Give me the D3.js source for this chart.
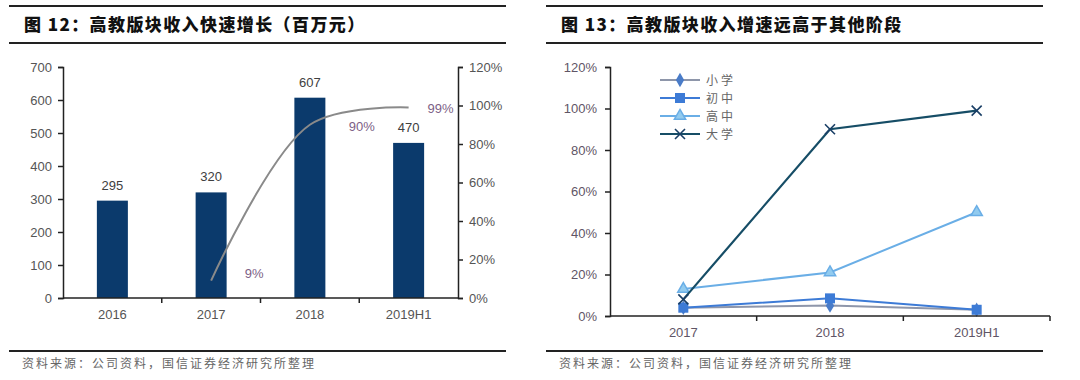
<!DOCTYPE html>
<html><head><meta charset="utf-8">
<script src="https://cdn.jsdelivr.net/npm/d3@7"></script>
<style>body{margin:0;background:#fff;} svg{display:block;}</style>
</head><body>
<svg id="c" width="1080" height="380"></svg>
<script>
// ---- Data ----
const years1 = ["2016","2017","2018","2019H1"];
const revenue = [295, 320, 607, 470];
const growthYears = ["2017","2018","2019H1"];
const growth = [0.09, 0.90, 0.99];
const growthLabels = ["9%","90%","99%"];
const leftTicks = [0,100,200,300,400,500,600,700];
const rightTicks = [0,0.2,0.4,0.6,0.8,1.0,1.2];

const years2 = ["2017","2018","2019H1"];
const seriesNames = ["小学","初中","高中","大学"];
const primary = [0.04, 0.05, 0.03];
const junior = [0.04, 0.085, 0.03];
const senior = [0.13, 0.21, 0.50];
const college = [0.08, 0.90, 0.99];
const pctTicks = [0,0.2,0.4,0.6,0.8,1.0,1.2];

const title1 = "图 12：高教版块收入快速增长（百万元）";
const title2 = "图 13：高教版块收入增速远高于其他阶段";
const source = "资料来源：公司资料，国信证券经济研究所整理";

const svg = d3.select("#c");
const FONT = "Liberation Sans, Arial, sans-serif";
const CJK = "Noto Sans CJK SC, sans-serif";

// ---- Frames ----
function frame(x0, x1, title){
  svg.append("line").attr("x1",x0).attr("x2",x1).attr("y1",6).attr("y2",6).attr("stroke","#222").attr("stroke-width",2);
  svg.append("line").attr("x1",x0).attr("x2",x1).attr("y1",43).attr("y2",43).attr("stroke","#222").attr("stroke-width",2);
  svg.append("line").attr("x1",x0).attr("x2",x1).attr("y1",351).attr("y2",351).attr("stroke","#222").attr("stroke-width",2);
  svg.append("text").attr("x",x0+15).attr("y",31).text(title)
    .attr("font-family",CJK).attr("font-weight",900).attr("font-size",17).attr("letter-spacing",1.4).attr("fill","#111");
  svg.append("text").attr("x",x0+13).attr("y",368).text(source)
    .attr("font-family",CJK).attr("font-size",12).attr("letter-spacing",2).attr("fill","#666");
}
frame(9,506,title1);
frame(546,1043,title2);

// ---- Left chart ----
const L = {x0:63, x1:458, y0:298, y1:67};
const xb = d3.scaleBand().domain(years1).range([L.x0,L.x1]);
const yl = d3.scaleLinear().domain([0,700]).range([L.y0,L.y1]);
const yr = d3.scaleLinear().domain([0,1.2]).range([L.y0,L.y1]);
const g1 = svg.append("g");

g1.selectAll("rect.bar").data(years1).enter().append("rect")
  .attr("x",d=>xb(d)+xb.bandwidth()/2-15.5).attr("width",31)
  .attr("y",(d,i)=>yl(revenue[i])).attr("height",(d,i)=>L.y0-yl(revenue[i]))
  .attr("fill","#0b3a6c");
g1.selectAll("text.val").data(years1).enter().append("text")
  .attr("x",d=>xb(d)+xb.bandwidth()/2).attr("y",(d,i)=>yl(revenue[i])-11)
  .attr("text-anchor","middle").attr("font-family",FONT).attr("font-size",13).attr("fill","#404040")
  .text((d,i)=>revenue[i]);

// growth line
const gl = d3.line().x((d,i)=>xb(growthYears[i])+xb.bandwidth()/2).y(d=>yr(d)).curve(d3.curveCatmullRom.alpha(0.5));
g1.append("path").datum(growth).attr("d",gl).attr("fill","none").attr("stroke","#8a8a8a").attr("stroke-width",2);
const glOff = [[43,-8],[52,1],[32,1]];
g1.selectAll("text.gr").data(growth).enter().append("text")
  .attr("x",(d,i)=>xb(growthYears[i])+xb.bandwidth()/2+glOff[i][0])
  .attr("y",(d,i)=>yr(d)+glOff[i][1]+5)
  .attr("text-anchor","middle").attr("font-family",FONT).attr("font-size",13).attr("fill","#7d5f86")
  .text((d,i)=>growthLabels[i]);

// axes
const axL = d3.axisLeft(yl).tickValues(leftTicks).tickSize(5).tickPadding(6);
const gL = g1.append("g").attr("transform",`translate(${L.x0},0)`).call(axL);
const axR = d3.axisRight(yr).tickValues(rightTicks).tickSize(5).tickPadding(6).tickFormat(d3.format(".0%"));
const gR = g1.append("g").attr("transform",`translate(${L.x1},0)`).call(axR);
const axB = d3.axisBottom(xb).tickSize(0).tickPadding(12);
const gB = g1.append("g").attr("transform",`translate(0,${L.y0})`).call(axB);
g1.selectAll("line.bt").data(years1.slice(1)).enter().append("line")
  .attr("x1",d=>xb(d)).attr("x2",d=>xb(d)).attr("y1",L.y0).attr("y2",L.y0+5).attr("stroke","#222").attr("stroke-width",1.5);
[gL,gR,gB].forEach(g=>{
  g.select(".domain").attr("stroke","#222").attr("stroke-width",1.5);
  g.selectAll(".tick line").attr("stroke","#222").attr("stroke-width",1.5);
  g.selectAll("text").attr("font-family",FONT).attr("font-size",13).attr("fill","#555");
});
gB.select(".domain").attr("d",`M${L.x0},0H${L.x1}`);

// ---- Right chart ----
const R = {x0:610, x1:1050, y0:316, y1:67};
const xb2 = d3.scaleBand().domain(years2).range([R.x0,R.x1]);
const y2 = d3.scaleLinear().domain([0,1.2]).range([R.y0,R.y1]);
const g2 = svg.append("g");
const cx = d=>xb2(d)+xb2.bandwidth()/2;

const series = [
  {name:seriesNames[0], vals:primary, line:"#8e96aa", mark:"#4a7cc8", sym:"diamond"},
  {name:seriesNames[1], vals:junior, line:"#3d7bd6", mark:"#3d7bd6", sym:"square"},
  {name:seriesNames[2], vals:senior, line:"#6aaee6", mark:"#6aaee6", sym:"triangle"},
  {name:seriesNames[3], vals:college, line:"#164d66", mark:"#1a3f66", sym:"x"}
];
const l2 = d3.line().x((d,i)=>cx(years2[i])).y(d=>y2(d));
function marker(g, s, x, y){
  if(s.sym==="diamond"){
    g.append("path").attr("d",d3.symbol(d3.symbolDiamond,60)()).attr("transform",`translate(${x},${y})`).attr("fill",s.mark);
  } else if(s.sym==="square"){
    g.append("rect").attr("x",x-5).attr("y",y-5).attr("width",10).attr("height",10).attr("fill",s.mark);
  } else if(s.sym==="triangle"){
    g.append("path").attr("d",d3.symbol(d3.symbolTriangle,55)()).attr("transform",`translate(${x},${y})`).attr("fill","#92cbef").attr("stroke",s.mark).attr("stroke-width",1.5);
  } else {
    g.append("path").attr("d",`M${x-5},${y-5}L${x+5},${y+5}M${x-5},${y+5}L${x+5},${y-5}`).attr("stroke",s.mark).attr("stroke-width",1.6).attr("fill","none");
  }
}
series.forEach(s=>{
  g2.append("path").datum(s.vals).attr("d",l2).attr("fill","none").attr("stroke",s.line).attr("stroke-width",s.sym==="x"?2.2:2);
  s.vals.forEach((v,i)=>marker(g2,s,cx(years2[i]),y2(v)));
});

const ax2 = d3.axisLeft(y2).tickValues(pctTicks).tickSize(5).tickPadding(8).tickFormat(d3.format(".0%"));
const gA2 = g2.append("g").attr("transform",`translate(${R.x0},0)`).call(ax2);
const axB2 = d3.axisBottom(xb2).tickSize(0).tickPadding(12);
const gB2 = g2.append("g").attr("transform",`translate(0,${R.y0})`).call(axB2);
g2.selectAll("line.bt").data(years2.slice(1).concat(["end"])).enter().append("line")
  .attr("x1",d=>d==="end"?R.x1:xb2(d)).attr("x2",d=>d==="end"?R.x1:xb2(d)).attr("y1",R.y0).attr("y2",R.y0+5).attr("stroke","#222").attr("stroke-width",1.5);
[gA2,gB2].forEach(g=>{
  g.select(".domain").attr("stroke","#222").attr("stroke-width",1.5);
  g.selectAll(".tick line").attr("stroke","#222").attr("stroke-width",1.5);
  g.selectAll("text").attr("font-family",FONT).attr("font-size",13).attr("fill","#5f5566");
});
gB2.select(".domain").attr("d",`M${R.x0},0H${R.x1}`);

// legend
const lg = g2.append("g");
series.forEach((s,i)=>{
  const y = 80 + i*18;
  lg.append("line").attr("x1",660).attr("x2",700).attr("y1",y).attr("y2",y).attr("stroke",s.line).attr("stroke-width",2);
  marker(lg,s,680,y);
  lg.append("text").attr("x",706).attr("y",y+4.5).text(s.name)
    .attr("font-family",CJK).attr("font-size",12).attr("fill","#666").attr("letter-spacing",3);
});
</script>
</body></html>
